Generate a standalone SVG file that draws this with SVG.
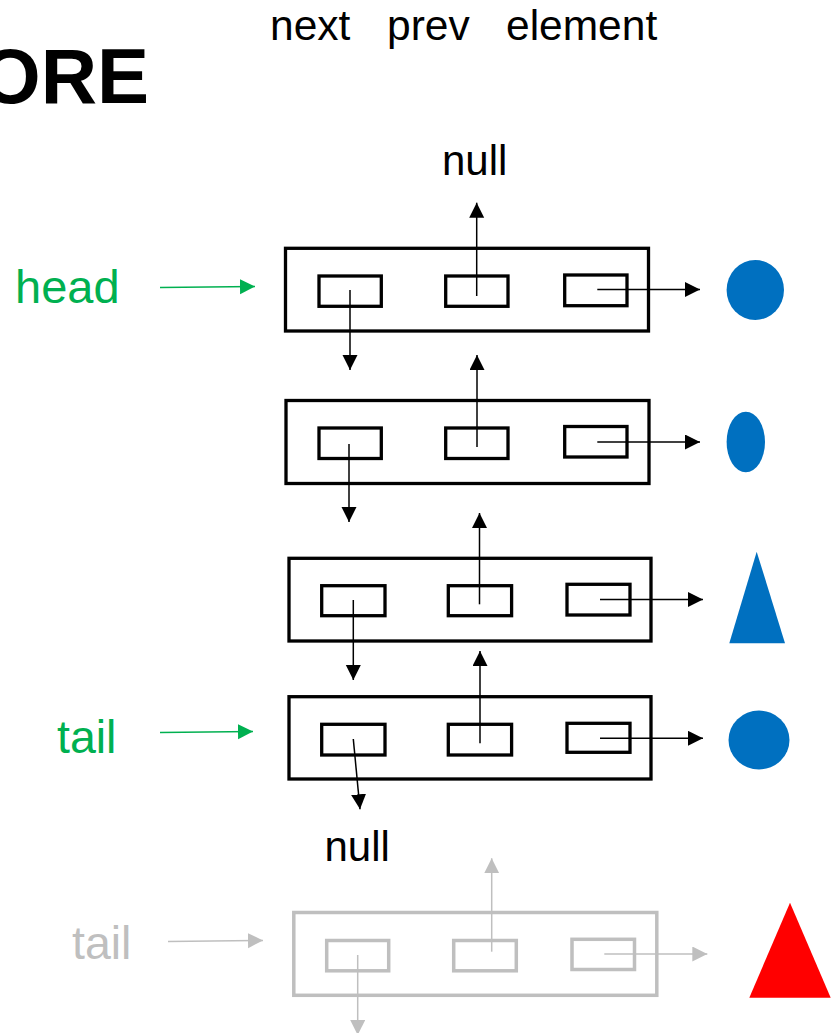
<svg xmlns="http://www.w3.org/2000/svg" width="831" height="1033" viewBox="0 0 831 1033">
<defs>
<style>
.t{font-family:"Liberation Sans",Arial,sans-serif;}
.node{fill:none;stroke:#000;stroke-width:3.3;}
.box{fill:none;stroke:#000;stroke-width:3.3;}
.gnode{fill:none;stroke:#BFBFBF;stroke-width:3.5;}
.ln{stroke:#000;stroke-width:1.5;fill:none;marker-end:url(#ab);}
.lg{stroke:#00B050;stroke-width:1.5;fill:none;marker-end:url(#ag);}
.lr{stroke:#BFBFBF;stroke-width:1.5;fill:none;marker-end:url(#ar);}
</style>
<marker id="ab" markerUnits="userSpaceOnUse" markerWidth="16" markerHeight="16" refX="15" refY="7.5" orient="auto"><path d="M0,0 L15,7.5 L0,15 z" fill="#000"/></marker>
<marker id="ag" markerUnits="userSpaceOnUse" markerWidth="16" markerHeight="16" refX="15" refY="7.5" orient="auto"><path d="M0,0 L15,7.5 L0,15 z" fill="#00B050"/></marker>
<marker id="ar" markerUnits="userSpaceOnUse" markerWidth="16" markerHeight="16" refX="15" refY="7.5" orient="auto"><path d="M0,0 L15,7.5 L0,15 z" fill="#BFBFBF"/></marker>
</defs>
<rect width="831" height="1033" fill="#fff"/>
<g id="title">
<text class="t" x="149" y="103" font-size="78" font-weight="bold" text-anchor="end">ORE</text>
<text class="t" x="270" y="40" font-size="42.5">next</text>
<text class="t" x="387" y="40" font-size="42.5">prev</text>
<text class="t" x="506" y="40" font-size="42.5">element</text>
</g>
<g id="null-top"><text class="t" x="442" y="175" font-size="42">null</text></g>
<g id="null-bottom"><text class="t" x="324.5" y="861" font-size="42">null</text></g>
<g id="head-label"><text class="t" x="15" y="303" font-size="47" fill="#00B050">head</text></g>
<g id="tail-label"><text class="t" x="57" y="753" font-size="46.5" fill="#00B050">tail</text></g>
<g id="tail-label-old"><text class="t" x="72" y="959" font-size="46.5" fill="#BFBFBF">tail</text></g>
<g id="node1">
<rect class="node" x="285.5" y="248.3" width="363" height="82.7"/>
<rect class="box" x="319" y="276" width="62.3" height="30.3"/>
<rect class="box" x="445.7" y="276" width="62.3" height="30.3"/>
<rect class="box" x="564.7" y="275" width="62.3" height="30.7"/>
</g>
<g id="node2">
<rect class="node" x="286" y="400.5" width="363" height="83"/>
<rect class="box" x="319" y="428" width="62.3" height="30.5"/>
<rect class="box" x="445.7" y="428" width="62.3" height="30.5"/>
<rect class="box" x="564.7" y="426.5" width="62.3" height="30.5"/>
</g>
<g id="node3">
<rect class="node" x="289" y="558.3" width="362" height="82.7"/>
<rect class="box" x="321.7" y="585.7" width="63.3" height="30"/>
<rect class="box" x="448.3" y="585.7" width="63.3" height="30"/>
<rect class="box" x="567" y="584.3" width="63" height="30.7"/>
</g>
<g id="node4">
<rect class="node" x="289" y="696.7" width="362" height="82.3"/>
<rect class="box" x="321.7" y="724.3" width="63.3" height="30.7"/>
<rect class="box" x="448.3" y="724.3" width="63.3" height="30.7"/>
<rect class="box" x="567" y="723.3" width="63" height="29"/>
</g>
<g id="node-old">
<rect class="gnode" x="293.8" y="912.5" width="363" height="82.8"/>
<rect class="gnode" x="326.7" y="940.5" width="62" height="30.3"/>
<rect class="gnode" x="453.7" y="940.5" width="62.6" height="30.3"/>
<rect class="gnode" x="572" y="939.3" width="62.5" height="30.2"/>
</g>
<g id="element1"><ellipse cx="755.3" cy="290" rx="28.7" ry="30" fill="#0070C0"/></g>
<g id="element2"><ellipse cx="745.8" cy="442" rx="19.2" ry="30.3" fill="#0070C0"/></g>
<g id="element3"><polygon points="756.7,551.7 785,643.3 729.3,643.3" fill="#0070C0"/></g>
<g id="element4"><ellipse cx="759" cy="740" rx="30.5" ry="29.5" fill="#0070C0"/></g>
<g id="element-new"><polygon points="790,902.7 830.7,997.7 749.3,997.7" fill="#FF0000"/></g>
<g id="connectors">
<line class="lg" x1="160" y1="287.5" x2="255" y2="286.5"/>
<line class="lg" x1="160" y1="732.5" x2="253" y2="731.5"/>
<line class="lr" x1="168" y1="941.5" x2="263" y2="940.5"/>
<line class="ln" x1="476.7" y1="296" x2="476.7" y2="202.7"/>
<line class="ln" x1="350" y1="290" x2="350" y2="370"/>
<line class="ln" x1="597.3" y1="289.5" x2="700" y2="289.5"/>
<line class="ln" x1="477" y1="447" x2="477" y2="355"/>
<line class="ln" x1="349" y1="444" x2="349" y2="522"/>
<line class="ln" x1="597.3" y1="442" x2="700" y2="442"/>
<line class="ln" x1="479.5" y1="604.3" x2="479.5" y2="513"/>
<line class="ln" x1="353.3" y1="600" x2="353.3" y2="680"/>
<line class="ln" x1="600" y1="599.5" x2="703" y2="599.5"/>
<line class="ln" x1="480" y1="743.3" x2="480" y2="651"/>
<line class="ln" x1="353.3" y1="739" x2="360" y2="809.3"/>
<line class="ln" x1="600" y1="738.3" x2="703" y2="738.3"/>
<line class="lr" x1="491.7" y1="951.7" x2="491.7" y2="858.3"/>
<line class="lr" x1="357.7" y1="955" x2="357.7" y2="1035"/>
<line class="lr" x1="604.3" y1="954" x2="707.3" y2="954"/>
</g>
</svg>
